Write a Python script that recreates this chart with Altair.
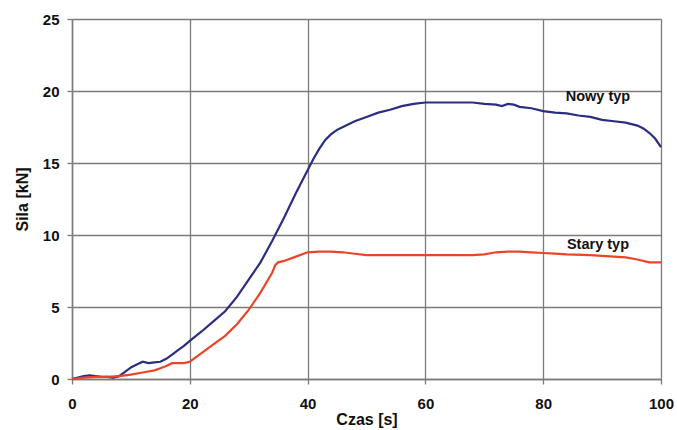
import altair as alt
import pandas as pd

# Nowy typ (blue)
nowy_x = [0, 1, 2, 3, 4, 5, 6, 7, 8, 9, 10, 11, 12, 13, 14, 15, 16, 17, 18, 19, 20,
          22, 24, 26, 28, 30, 32, 34, 36, 38, 40, 41, 42, 43, 44, 45, 46, 48, 50, 52, 54, 56,
          58, 60, 62, 64, 66, 68, 70, 72, 73, 74, 75, 76, 78, 80, 82, 84, 86, 88, 90,
          92, 94, 96, 97, 98, 99, 100]
nowy_y = [0, 0.1, 0.2, 0.25, 0.2, 0.15, 0.15, 0.1, 0.2, 0.5, 0.8, 1.0, 1.2, 1.1, 1.15,
          1.2, 1.4, 1.7, 2.0, 2.3, 2.65, 3.3, 4.0, 4.7, 5.7, 6.9, 8.1, 9.6, 11.2, 12.9,
          14.5, 15.3, 16.0, 16.6, 17.0, 17.3, 17.5, 17.9, 18.2, 18.5, 18.7, 18.95, 19.1, 19.2, 19.2,
          19.2, 19.2, 19.2, 19.1, 19.05, 18.95, 19.1, 19.05, 18.9, 18.8, 18.6, 18.5,
          18.45, 18.3, 18.2, 18.0, 17.9, 17.8, 17.6, 17.4, 17.1, 16.7, 16.1]

# Stary typ (red)
stary_x = [0, 2, 4, 6, 8, 10, 12, 14, 15, 16, 17, 18, 19, 20, 21, 22, 24, 26, 28, 30,
           32, 34, 34.5, 35, 36, 38, 40, 42, 44, 46, 48, 50, 52, 56, 60, 64, 68, 70, 72,
           74, 76, 78, 80, 82, 84, 88, 90, 92, 94, 96, 98, 100]
stary_y = [0, 0.1, 0.15, 0.15, 0.2, 0.3, 0.45, 0.6, 0.75, 0.9, 1.1, 1.1, 1.1, 1.2, 1.5,
           1.8, 2.4, 3.0, 3.8, 4.8, 6.0, 7.4, 7.9, 8.1, 8.2, 8.5, 8.8, 8.85, 8.85, 8.8,
           8.7, 8.6, 8.6, 8.6, 8.6, 8.6, 8.6, 8.65, 8.8, 8.85, 8.85, 8.8, 8.75, 8.7,
           8.65, 8.6, 8.55, 8.5, 8.45, 8.3, 8.1, 8.1]

series_names = ["Nowy typ", "Stary typ"]
series_colors = ["#2a2e80", "#ea4528"]

label_x = [89.3, 89.3]
label_y = [19.6, 9.3]

df = pd.concat([
    pd.DataFrame({"t": nowy_x, "f": nowy_y, "s": series_names[0]}),
    pd.DataFrame({"t": stary_x, "f": stary_y, "s": series_names[1]}),
])
labels = pd.DataFrame({"t": label_x, "f": label_y, "s": series_names})

FONT = "Liberation Sans"

x_enc = alt.X("t:Q", scale=alt.Scale(domain=[0, 100], nice=False),
              axis=alt.Axis(values=[0, 20, 40, 60, 80, 100], title="Czas [s]",
                            labelPadding=12, titlePadding=0, labelFlush=False))
y_enc = alt.Y("f:Q", scale=alt.Scale(domain=[0, 25], nice=False),
              axis=alt.Axis(values=[0, 5, 10, 15, 20, 25], title="Sila [kN]",
                            labelPadding=8, titlePadding=12, labelFlush=False))

lines = alt.Chart(df).mark_line(strokeWidth=2.2).encode(
    x=x_enc, y=y_enc,
    color=alt.Color("s:N", scale=alt.Scale(domain=series_names, range=series_colors),
                    legend=None),
    detail="s:N",
)

text = alt.Chart(labels).mark_text(font=FONT, fontWeight="bold", fontSize=14.5,
                                   color="#111111", baseline="middle").encode(
    x="t:Q", y="f:Q", text="s:N"
)

chart = alt.layer(lines, text).properties(
    width=589, height=360,
    autosize=alt.AutoSizeParams(type="none"),
    padding={"left": 72, "top": 19, "right": 16, "bottom": 51},
    background="white",
).configure_view(stroke=None).configure_axis(
    labelFont=FONT, labelFontWeight="bold", labelFontSize=15, labelColor="#111111",
    titleFont=FONT, titleFontWeight="bold", titleFontSize=16, titleColor="#111111",
    gridColor="#7f7a78", gridWidth=1.3, gridOpacity=1,
    domainColor="#7f7a78", domainWidth=1.5,
    tickColor="#7f7a78", tickSize=5, tickWidth=1.3,
)

chart.save("out.html", embed_options={"renderer": "svg", "actions": False})
